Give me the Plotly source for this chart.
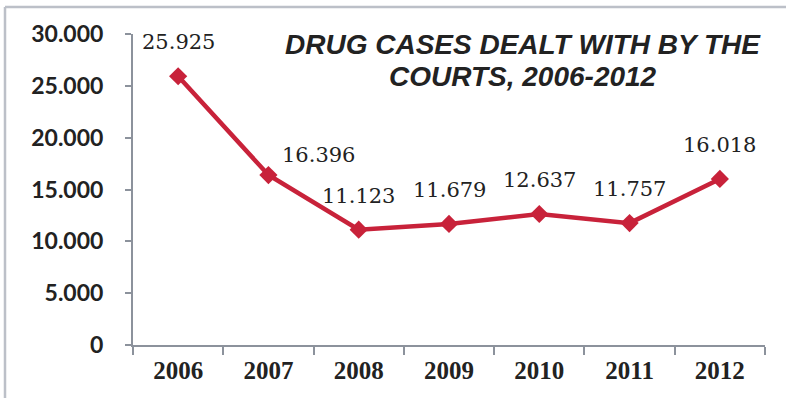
import plotly.graph_objects as go

# Drug cases dealt with by the courts, per year
years = ["2006", "2007", "2008", "2009", "2010", "2011", "2012"]
cases = [25925, 16396, 11123, 11679, 12637, 11757, 16018]
y_ticks = [0, 5000, 10000, 15000, 20000, 25000, 30000]
title_lines = ["DRUG CASES DEALT WITH BY THE", "COURTS, 2006-2012"]

W, H = 786, 398
ML, MR, MT, MB = 133, 21, 34, 53

RED = "#C8223A"
AXIS = "#8C929C"
TEXT = "#222222"


def thousands(v):
    return f"{v:,}".replace(",", ".")


fig = go.Figure()
fig.add_trace(go.Scatter(
    x=years, y=cases, mode="lines+markers",
    line=dict(color=RED, width=4.5),
    marker=dict(symbol="diamond", size=14, color=RED),
    hoverinfo="skip", showlegend=False,
))

# value labels above each point (2007 sits to the upper right of its marker)
for i, (yr, v) in enumerate(zip(years, cases)):
    xs, ys = (50, 6) if yr == "2007" else (0, 20)
    fig.add_annotation(
        x=i, y=v, text=thousands(v), showarrow=False,
        xanchor="center", yanchor="bottom", xshift=xs, yshift=ys,
        font=dict(family="DejaVu Serif", size=21, color=TEXT),
    )

# outer frame of the chart box (runs off the right and bottom edges)
pw = W - ML - MR
ph = H - MT - MB
def px_x(p):
    return (p - ML) / pw
def px_y(p):
    return (H - MB - p) / ph

fig.add_shape(type="line", xref="paper", yref="paper",
              x0=px_x(5), x1=px_x(5), y0=px_y(7), y1=px_y(420),
              line=dict(color="#BCC0C8", width=2.5))
fig.add_shape(type="line", xref="paper", yref="paper",
              x0=px_x(5), x1=px_x(820), y0=px_y(7), y1=px_y(7),
              line=dict(color="#BCC0C8", width=2.5))

# two-line title, each line placed on its own for tight spacing
for line, cy in zip(title_lines, [45, 76]):
    fig.add_annotation(
        xref="paper", yref="paper", x=px_x(523), y=px_y(cy),
        text=line, showarrow=False, xanchor="center", yanchor="middle",
        font=dict(family="Liberation Sans", size=28, color=TEXT,
                  weight="bold", style="italic"),
    )

fig.update_layout(
    width=W, height=H,
    margin=dict(l=ML, r=MR, t=MT, b=MB, pad=0),
    paper_bgcolor="white", plot_bgcolor="white",
    separators=",.",
    xaxis=dict(
        type="category", range=[-0.5, 6.5], showgrid=False, zeroline=False,
        showline=True, linecolor=AXIS, linewidth=2,
        ticks="outside", tickson="boundaries", ticklen=8, tickwidth=2,
        tickcolor=AXIS,
        tickfont=dict(family="Liberation Serif", size=25, color=TEXT,
                      weight="bold"),
        ticklabelstandoff=2,
    ),
    yaxis=dict(
        range=[0, 30000], tickvals=y_ticks, tickformat=",d",
        showgrid=False, zeroline=False,
        showline=True, linecolor=AXIS, linewidth=2,
        ticks="outside", ticklen=6, tickwidth=2, tickcolor=AXIS,
        tickfont=dict(family="Lato", size=23, color=TEXT, weight="bold"),
        ticklabelstandoff=17,
    ),
)

fig.write_html("out.html")
